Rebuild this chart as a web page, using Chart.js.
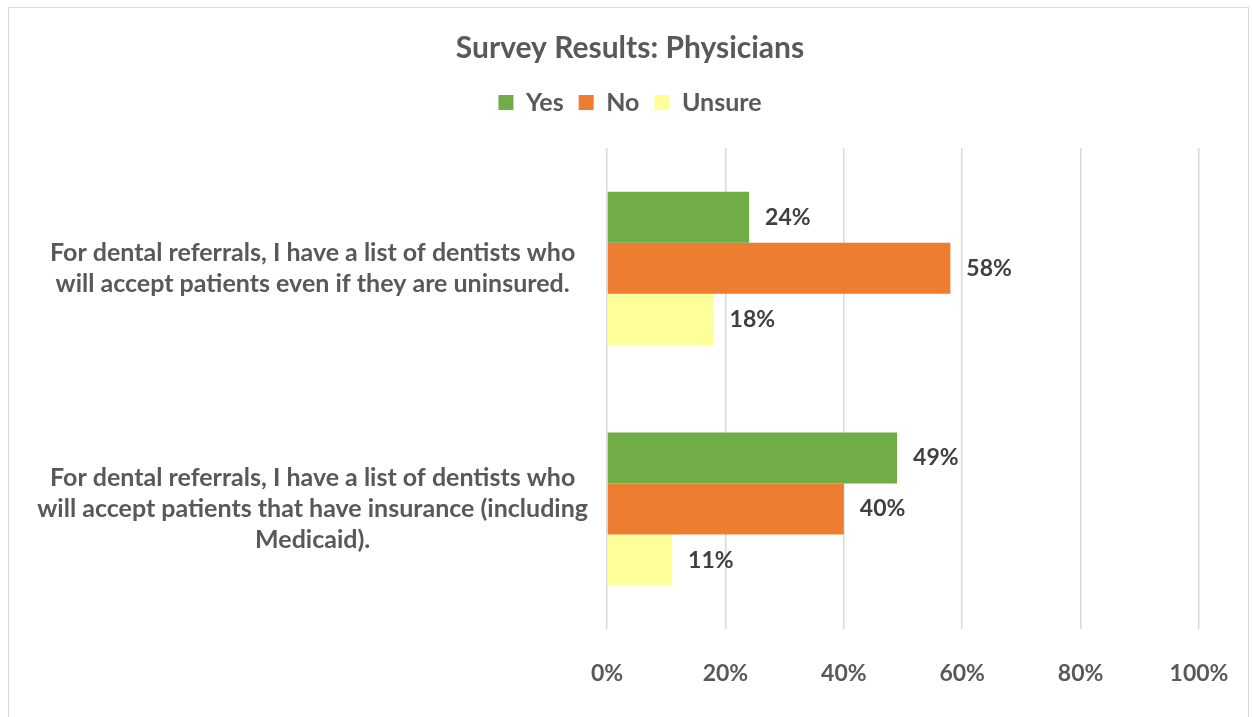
<!DOCTYPE html>
<html>
<head>
<meta charset="utf-8">
<script src="https://cdn.jsdelivr.net/npm/chart.js@4.4.0/dist/chart.umd.min.js"></script>
<style>
  html, body { margin: 0; padding: 0; background: #fff; }
  #frame {
    position: absolute; left: 8px; top: 7px;
    width: 1241px; height: 720px;
    border: 1px solid #d9d9d9; box-sizing: border-box;
  }
  #wrap { position: absolute; left: 0; top: 0; width: 1253px; height: 717px; }
</style>
</head>
<body>
<div id="frame"></div>
<div id="wrap"><canvas id="survey-chart" width="1253" height="717"></canvas></div>
<script>
// survey questions (y categories)
let questions = [
  ["For dental referrals, I have a list of dentists who", "will accept patients even if they are uninsured."],
  ["For dental referrals, I have a list of dentists who", "will accept patients that have insurance (including", "Medicaid)."]
];
let yesValues = [24, 49];
let noValues = [58, 40];
let unsureValues = [18, 11];
let tickValues = [0, 20, 40, 60, 80, 100];

let fontName = "Lato, 'Open Sans', sans-serif";

// writes "xx%" just right of each bar
const barValueLabels = {
  id: 'barValueLabels',
  afterDatasetsDraw(chart) {
    let ctx = chart.ctx;
    ctx.save();
    ctx.font = "bold 23px " + fontName;
    ctx.fillStyle = "#404040";
    ctx.textAlign = "left";
    ctx.textBaseline = "middle";
    chart.data.datasets.forEach((ds, i) => {
      let meta = chart.getDatasetMeta(i);
      meta.data.forEach((bar, j) => {
        ctx.fillText(ds.data[j] + "%", bar.x + 16, bar.y);
      });
    });
    ctx.restore();
  }
};

// extra room under the legend
const legendGap = {
  id: 'legendGap',
  beforeInit(chart) {
    const fit = chart.legend.fit;
    chart.legend.fit = function () {
      fit.bind(chart.legend)();
      this.height += 23;
    };
  }
};

new Chart("survey-chart", {
  type: "bar",
  data: {
    labels: questions,
    datasets: [{
      label: "Yes",
      backgroundColor: "#70ad47",
      data: yesValues
    }, {
      label: "No",
      backgroundColor: "#ed7d31",
      data: noValues
    }, {
      label: "Unsure",
      backgroundColor: "#ffff99",
      data: unsureValues
    }]
  },
  plugins: [barValueLabels, legendGap],
  options: {
    indexAxis: 'y',
    responsive: false,
    animation: false,
    categoryPercentage: 0.636,
    barPercentage: 1,
    layout: {
      padding: { left: 61, right: 54, top: 0, bottom: 0 }
    },
    plugins: {
      title: {
        display: true,
        text: "Survey Results: Physicians",
        color: "#595959",
        font: { family: fontName, size: 30, weight: 'bold' },
        padding: { top: 30, bottom: 9 }
      },
      legend: {
        display: true,
        position: 'top',
        labels: {
          color: "#595959",
          font: { family: fontName, size: 25, weight: 'bold' },
          boxWidth: 15,
          boxHeight: 15,
          padding: 15
        }
      },
      tooltip: { enabled: false }
    },
    scales: {
      x: {
        min: 0,
        max: 100,
        afterBuildTicks: (scale) => {
          scale.ticks = tickValues.map(v => ({ value: v }));
        },
        afterFit: (scale) => {
          scale.paddingLeft = 0;
          scale.paddingRight = 0;
        },
        grid: { color: "#d9d9d9", lineWidth: 1.5, drawTicks: false },
        border: { display: false },
        ticks: {
          color: "#595959",
          font: { family: fontName, size: 23, weight: 'bold' },
          padding: 30,
          callback: (v) => v + "%"
        }
      },
      y: {
        afterFit: (scale) => {
          scale.width = 546;
          scale.paddingTop = 0;
          scale.paddingBottom = 0;
          // question text may run past the padded edge
          scale._computeLabelArea = () => null;
        },
        grid: { display: false },
        border: { display: false },
        ticks: {
          color: "#595959",
          crossAlign: 'center',
          padding: 11,
          font: { family: fontName, size: 25, weight: 'bold', lineHeight: 1.24 }
        }
      }
    }
  }
});
</script>
</body>
</html>
